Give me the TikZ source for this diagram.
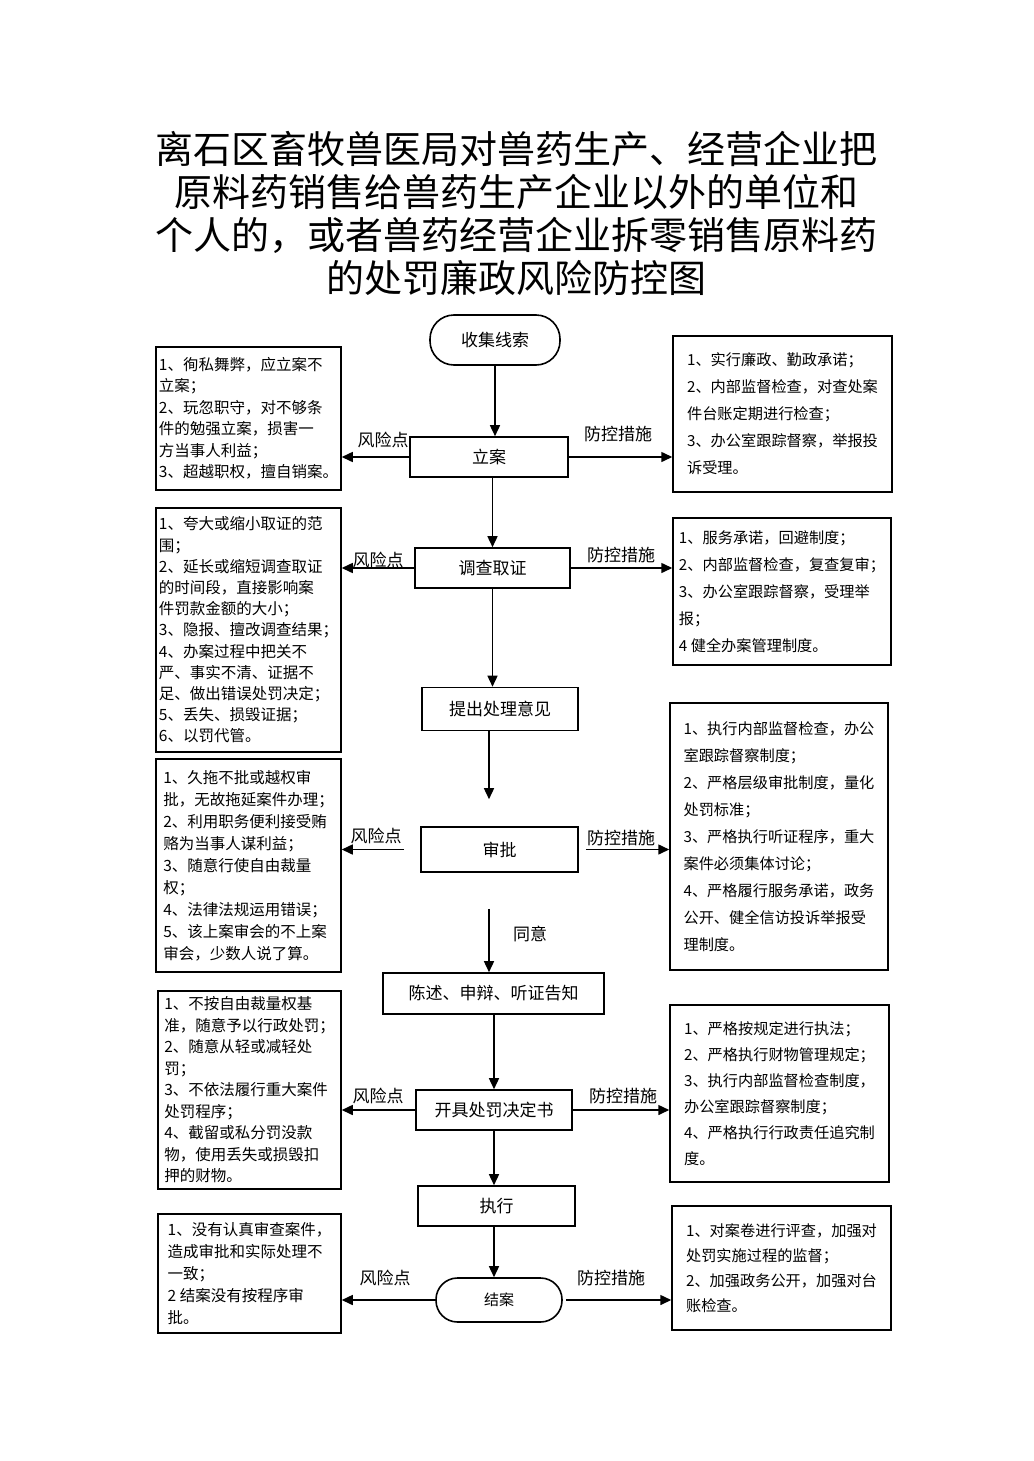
\documentclass[tikz,border=0pt]{standalone}
\usepackage{fontspec}
\setmainfont{Noto Sans CJK SC}
\usetikzlibrary{arrows.meta}
\tikzset{
  box/.style={draw, line width=1.5pt, inner sep=0pt, align=left},
  lbox/.style={box, font=\fontsize{15.5}{21.5}\selectfont},
  rbox/.style={box, font=\fontsize{15.2}{27}\selectfont},
  stepbox/.style={draw, line width=1.6pt, inner sep=0pt, font=\fontsize{17}{20}\selectfont},
  arr/.style={-{Triangle[length=11pt,width=10pt]}, line width=1.5pt},
  lab/.style={font=\fontsize{17}{20}\selectfont, inner sep=0pt},
}
\begin{document}
\begin{tikzpicture}[x=1pt,y=-1pt]
\path[use as bounding box, fill=white] (0,0) rectangle (1033,1461);

% title
\node[align=center, inner sep=0pt, font=\fontsize{38}{43}\selectfont] (title) at (516,213)
 {离石区畜牧兽医局对兽药生产、经营企业把\\原料药销售给兽药生产企业以外的单位和\\个人的，或者兽药经营企业拆零销售原料药\\的处罚廉政风险防控图};

% center column
\node[stepbox, rounded corners=24pt, minimum width=130pt, minimum height=50pt] (xs) at (495,340) {收集线索};
\node[stepbox, minimum width=158pt, minimum height=40pt] (la) at (489,457) {立案};
\node[stepbox, minimum width=155pt, minimum height=40pt] (dc) at (492.5,568) {调查取证};
\node[stepbox, minimum width=156pt, minimum height=43pt] (tc) at (500,709) {提出处理意见};
\node[stepbox, minimum width=157pt, minimum height=45pt] (sp) at (499.5,849.5) {审批};
\node[stepbox, minimum width=221pt, minimum height=41pt] (cs) at (493.5,993.5) {陈述、申辩、听证告知};
\node[stepbox, minimum width=156pt, minimum height=40pt] (kj) at (494,1110) {开具处罚决定书};
\node[stepbox, minimum width=157pt, minimum height=40pt] (zx) at (496.5,1206) {执行};
\node[stepbox, rounded corners=21.5pt, minimum width=126pt, minimum height=44pt, font=\fontsize{15}{18}\selectfont] (ja) at (499,1300) {结案};

% left boxes
\node[lbox, minimum width=185pt, minimum height=143pt] (L1) at (248.5,418.5)
 {1、徇私舞弊，应立案不\\立案；\\2、玩忽职守，对不够条\\件的勉强立案，损害一\\方当事人利益；\\3、超越职权，擅自销案。};
\node[lbox, minimum width=185pt, minimum height=244pt, font=\fontsize{15.5}{21.2}\selectfont] (L2) at (248.5,630)
 {1、夸大或缩小取证的范\\围；\\2、延长或缩短调查取证\\的时间段，直接影响案\\件罚款金额的大小；\\3、隐报、擅改调查结果；\\4、办案过程中把关不\\严、事实不清、证据不\\足、做出错误处罚决定；\\5、丢失、损毁证据；\\6、以罚代管。};
\node[lbox, minimum width=185pt, minimum height=213pt, font=\fontsize{15.5}{22}\selectfont] (L3) at (248.5,865.5)
 {1、久拖不批或越权审\\批，无故拖延案件办理；\\2、利用职务便利接受贿\\赂为当事人谋利益；\\3、随意行使自由裁量\\权；\\4、法律法规运用错误；\\5、该上案审会的不上案\\审会，少数人说了算。};
\node[lbox, minimum width=183pt, minimum height=198pt] (L4) at (249.5,1090)
 {1、不按自由裁量权基\\准，随意予以行政处罚；\\2、随意从轻或减轻处\\罚；\\3、不依法履行重大案件\\处罚程序；\\4、截留或私分罚没款\\物，使用丢失或损毁扣\\押的财物。};
\node[lbox, minimum width=183pt, minimum height=119pt, font=\fontsize{15.5}{22}\selectfont] (L5) at (249.5,1273.5)
 {1、没有认真审查案件，\\造成审批和实际处理不\\一致；\\2 结案没有按程序审\\批。};

% right boxes
\node[rbox, minimum width=219pt, minimum height=156pt] (R1) at (782.5,414)
 {1、实行廉政、勤政承诺；\\2、内部监督检查，对查处案\\件台账定期进行检查；\\3、办公室跟踪督察，举报投\\诉受理。};
\node[rbox, minimum width=218pt, minimum height=147pt] (R2) at (782,591.5)
 {1、服务承诺，回避制度；\\2、内部监督检查，复查复审；\\3、办公室跟踪督察，受理举\\报；\\4 健全办案管理制度。};
\node[rbox, minimum width=218pt, minimum height=267pt] (R3) at (779,836.5)
 {1、执行内部监督检查，办公\\室跟踪督察制度；\\2、严格层级审批制度，量化\\处罚标准；\\3、严格执行听证程序，重大\\案件必须集体讨论；\\4、严格履行服务承诺，政务\\公开、健全信访投诉举报受\\理制度。};
\node[rbox, minimum width=219pt, minimum height=177pt, font=\fontsize{15.2}{26}\selectfont] (R4) at (779.5,1093.5)
 {1、严格按规定进行执法；\\2、严格执行财物管理规定；\\3、执行内部监督检查制度，\\办公室跟踪督察制度；\\4、严格执行行政责任追究制\\度。};
\node[rbox, minimum width=219pt, minimum height=124pt, font=\fontsize{15.2}{25}\selectfont] (R5) at (781.5,1268)
 {1、对案卷进行评查，加强对\\处罚实施过程的监督；\\2、加强政务公开，加强对台\\账检查。};

% vertical arrows
\draw[arr] (xs.south) -- (xs.south |- la.north);
\draw[arr] (dc.north |- la.south) -- (dc.north);
\draw[arr] (dc.south) -- (dc.south |- tc.north);
\draw[arr, shorten >=27pt] (tc.south -| la.south) -- (la.south |- sp.north);
\draw[arr, shorten <=36pt] (la.south |- sp.south) -- (la.south |- cs.north);
\draw[arr] (cs.south -| kj.south) -- (kj.north);
\draw[arr] (kj.south) -- (kj.south |- zx.north);
\draw[arr] (kj.south |- zx.south) -- (kj.south |- ja.north);
\node[lab] (ty) at (530,934) {同意};

% side arrows
\draw[arr] (la.west) -- (L1.east |- la.west);
\draw[arr] (la.east) -- (R1.west |- la.east);
\draw[arr] (dc.west) -- (L2.east |- dc.west);
\draw[arr] (dc.east) -- (R2.west |- dc.east);
\draw[arr, shorten <=16pt] (sp.west) -- (L3.east |- sp.west);
\draw[arr, shorten <=7pt] (sp.east) -- (R3.west |- sp.east);
\draw[arr] (kj.west) -- (L4.east |- kj.west);
\draw[arr] (kj.east) -- (R4.west |- kj.east);
\draw[arr] (ja.west) -- (L5.east |- ja.west);
\draw[arr, shorten <=3pt] (ja.east) -- (R5.west |- ja.east);

% labels
\node[lab] (f1) at (383,440) {风险点};
\node[lab] (p1) at (618,434) {防控措施};
\node[lab] (f2) at (378,560) {风险点};
\node[lab] (p2) at (621,555) {防控措施};
\node[lab] (f3) at (376,836) {风险点};
\node[lab] (p3) at (621,838) {防控措施};
\node[lab] (f4) at (378,1096) {风险点};
\node[lab] (p4) at (623,1096) {防控措施};
\node[lab] (f5) at (385,1278) {风险点};
\node[lab] (p5) at (611,1278) {防控措施};
\end{tikzpicture}
\end{document}
